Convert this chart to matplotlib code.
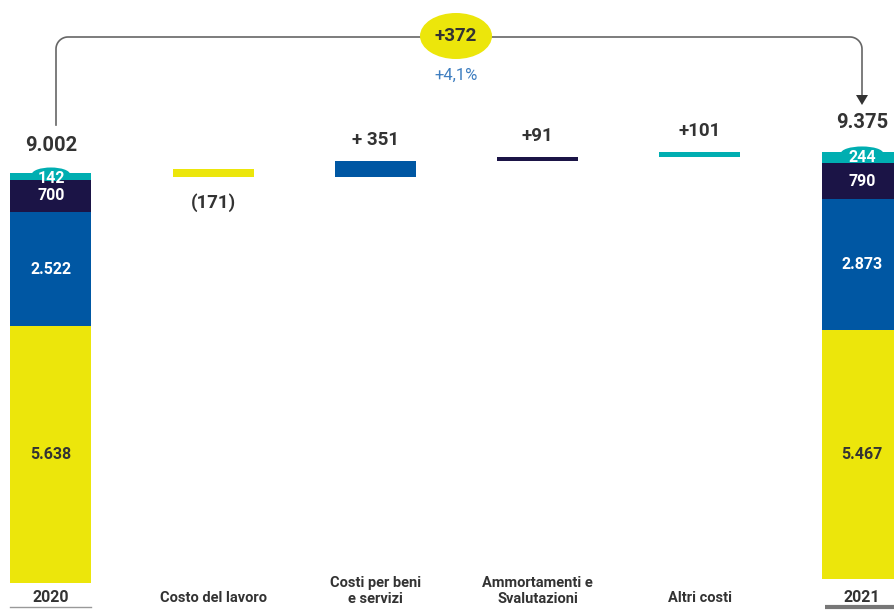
import numpy as np
import matplotlib
matplotlib.use("Agg")
import matplotlib.pyplot as plt
from matplotlib.patches import Ellipse, Polygon

plt.rcParams['font.family'] = ['Roboto', 'DejaVu Sans']

# dati
anni = ["2020", "2021"]
segmenti_2020 = [5638, 2522, 700, 142]
segmenti_2021 = [5467, 2873, 790, 244]
etichette_2020 = ["5.638", "2.522", "700", "142"]
etichette_2021 = ["5.467", "2.873", "790", "244"]
totali = ["9.002", "9.375"]
voci = ["Costo del lavoro", "Costi per beni\ne servizi", "Ammortamenti e\nSvalutazioni", "Altri costi"]
delta = [-171, 351, 91, 101]
etichette_delta = ["(171)", "+ 351", "+91", "+101"]
variazione = "+372"
variazione_pct = "+4,1%"

colori = ['#ECE60B', '#0057A3', '#1B1446', '#00AEB1']
testo = '#333333'

fig = plt.figure(figsize=(8.95, 6.12), dpi=100)
ax = fig.add_axes([0, 0, 1, 1])
ax.set_xlim(-0.314, 5.203)
ax.set_ylim(-637, 12813)
ax.axis('off')

larg = 0.5

# barre impilate 2020 e 2021
for x, seg, lab, b0 in [(0, segmenti_2020, etichette_2020, 0), (5, segmenti_2021, etichette_2021, 90)]:
    base = b0
    for i, v in enumerate(seg):
        ax.bar(x, v, width=larg, bottom=base, color=colori[i], linewidth=0)
        if i < 3:
            col = testo if i == 0 else 'white'
            ax.text(x, base + v / 2, lab[i], ha='center', va='center', color=col,
                    fontsize=11.5, fontweight='bold')
        else:
            # cupola sul segmento turchese
            ax.add_patch(Ellipse((x, base + v - 20), 0.2 + v / 4000, 300, color=colori[i], lw=0))
            ax.text(x, base + v - 110, lab[i], ha='center', va='center', color='white',
                    fontsize=11.5, fontweight='bold')
        base += v

ax.text(0, sum(segmenti_2020) + 620, totali[0], ha='center', va='center', color=testo,
        fontsize=14.5, fontweight='bold')
ax.text(5, sum(segmenti_2021) + 740, totali[1], ha='center', va='center', color=testo,
        fontsize=14.5, fontweight='bold')

# barre delle variazioni (cascata)
livello = sum(segmenti_2020)
for i, d in enumerate(delta):
    x = i + 1
    if d < 0:
        fondo = livello + d
    else:
        fondo = livello
    ax.bar(x, abs(d), width=larg, bottom=fondo + 90, color=colori[i], linewidth=0)
    if d < 0:
        ax.text(x, fondo + 90 - 560, etichette_delta[i], ha='center', va='center',
                color=testo, fontsize=13.5, fontweight='bold')
    else:
        ax.text(x, fondo + 90 + abs(d) + 460, etichette_delta[i], ha='center', va='center',
                color=testo, fontsize=13.5, fontweight='bold')
    livello += d

# etichette asse x
ax.text(0, -320, anni[0], ha='center', va='center', color=testo, fontsize=11.5, fontweight='bold')
ax.text(5, -320, anni[1], ha='center', va='center', color=testo, fontsize=11.5, fontweight='bold')
ax.plot([-0.25, 0.25], [-530, -530], color='#999999', lw=1)
ax.plot([4.77, 5.25], [-530, -530], color='#777777', lw=3, solid_capstyle='butt')
for i, v in enumerate(voci):
    ax.text(i + 1, -340 if '\n' not in v else -180, v, ha='center', va='center', color=testo,
            fontsize=10.5, fontweight='bold', linespacing=1.2)

# parentesi in alto (coordinate in pixel)
ov = fig.add_axes([0, 0, 1, 1])
ov.set_xlim(0, 895)
ov.set_ylim(612, 0)
ov.axis('off')
r = 12
t = np.linspace(np.pi, 1.5 * np.pi, 20)
xs = np.concatenate([[56], 56 + r + r * np.cos(t), 862 - r - r * np.cos(t)[::-1], [862]])
ys = np.concatenate([[125], 37 + r + r * np.sin(t), 37 + r + r * np.sin(t)[::-1], [97]])
ov.plot(xs, ys, color='#666666', lw=1.2, zorder=1)
ov.add_patch(Polygon([[856, 95], [868, 95], [862, 105]], closed=True, color='#333333', lw=0))
ov.add_patch(Ellipse((456, 36), 72, 46, color='#ECE60B', lw=0, zorder=3))
ov.text(456, 36, variazione, ha='center', va='center', color=testo, fontsize=13.5,
        fontweight='bold', zorder=4)
ov.text(456, 75, variazione_pct, ha='center', va='center', color='#3F7EC0', fontsize=12)

fig.savefig("out.png", dpi=100)
